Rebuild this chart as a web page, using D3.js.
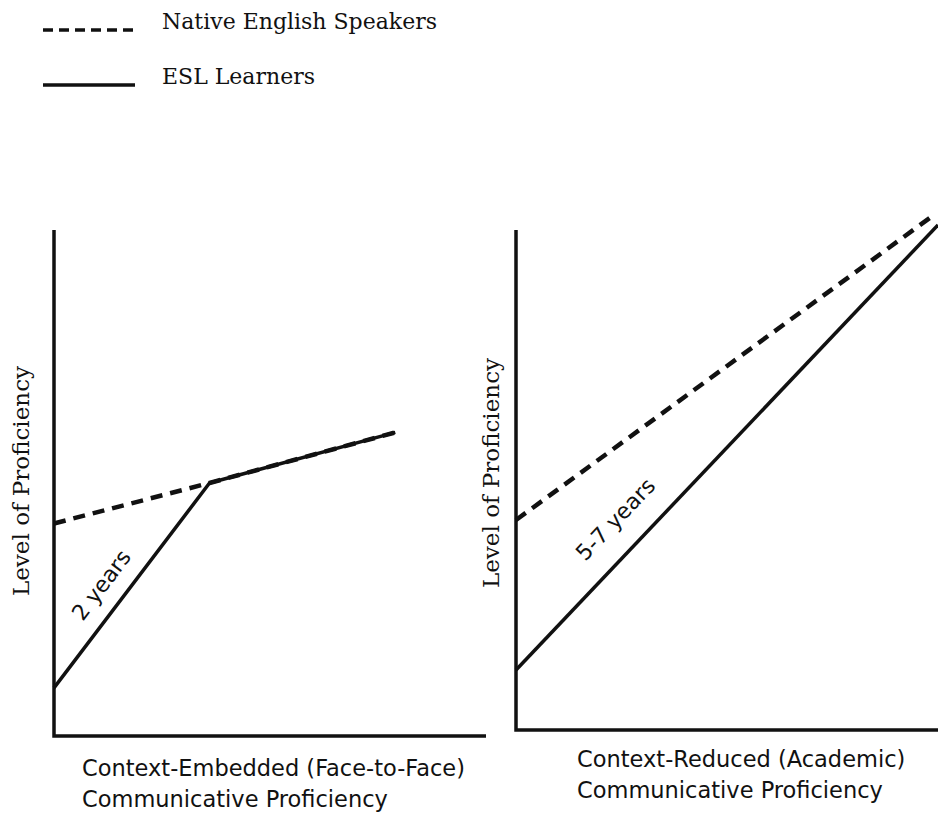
<!DOCTYPE html>
<html>
<head>
<meta charset="utf-8">
<script src="https://cdn.jsdelivr.net/npm/d3@7"></script>
<style>
  body { margin: 0; background: #fff; }
  svg text { fill: #111; }
  .serif { font-family: "DejaVu Serif", "Liberation Serif", serif; }
  .sans { font-family: "DejaVu Sans", "Open Sans", sans-serif; }
</style>
</head>
<body>
<div id="chart"></div>
<script>
  // panel names and years-to-catch-up labels
  const panels = ["embedded", "reduced"];
  const gapLabels = ["2 years", "5-7 years"];
  const xTitles = [
    ["Context-Embedded (Face-to-Face)", "Communicative Proficiency"],
    ["Context-Reduced (Academic)", "Communicative Proficiency"]
  ];
  const yTitle = "Level of Proficiency";
  const seriesNames = ["Native English Speakers", "ESL Learners"];

  // values on a 0-10 schematic scale (x = time, y = level)
  const nativeEmbedded = [[0, 4.2], [3.6, 5.0], [7.9, 6.0]];
  const eslEmbedded = [[0, 0.95], [3.6, 5.0], [7.9, 6.0]];
  const nativeReduced = [[0, 4.2], [9.9, 10.3]];
  const eslReduced = [[0, 1.2], [10, 10.1]];

  const width = 938;
  const height = 818;
  const svg = d3.select("#chart").append("svg")
    .attr("width", width).attr("height", height);

  const ink = "#111";
  const dash = "12,8";

  // legend
  const legend = svg.append("g");
  seriesNames.forEach((name, i) => {
    const y = 30 + i * 55;
    legend.append("line")
      .attr("x1", 43).attr("x2", 135).attr("y1", y).attr("y2", y)
      .attr("stroke", ink).attr("stroke-width", 3.5)
      .attr("stroke-dasharray", i === 0 ? "10,6" : null);
    legend.append("text")
      .attr("class", "serif")
      .attr("x", 162).attr("y", y - 1)
      .style("font-size", "22px")
      .text(name);
  });

  const layout = [
    { left: 54, right: 486, top: 230, bottom: 736, labelX: 22, labelY: 481,
      titleX: 82, titleY: 776, gapT: 0.43, gapOff: 17 },
    { left: 516, right: 938, top: 230, bottom: 730, labelX: 492, labelY: 473,
      titleX: 577, titleY: 767, gapT: 0.29, gapOff: 24 }
  ];
  const data = [
    { native: nativeEmbedded, esl: eslEmbedded },
    { native: nativeReduced, esl: eslReduced }
  ];

  panels.forEach((p, i) => {
    const L = layout[i];
    const x = d3.scaleLinear().domain([0, 10]).range([L.left, L.right]);
    const y = d3.scaleLinear().domain([0, 10]).range([L.bottom, L.top]);
    const g = svg.append("g").attr("class", p);

    // axes drawn as plain strokes, no ticks
    g.append("path")
      .attr("d", `M${x(0)},${y(10)}V${y(0)}H${x(10)}`)
      .attr("fill", "none").attr("stroke", ink).attr("stroke-width", 3.5);

    const line = d3.line().x(d => x(d[0])).y(d => y(d[1]));

    g.append("path")
      .datum(data[i].esl)
      .attr("d", line)
      .attr("fill", "none").attr("stroke", ink).attr("stroke-width", 3.5)
      .attr("stroke-linejoin", "round");

    g.append("path")
      .datum(data[i].native)
      .attr("d", line)
      .attr("fill", "none").attr("stroke", ink).attr("stroke-width", 4.5)
      .attr("stroke-dasharray", dash);

    // label along the ESL rise
    const a = data[i].esl[0], b = data[i].esl[1];
    const ang = Math.atan2(y(b[1]) - y(a[1]), x(b[0]) - x(a[0])) * 180 / Math.PI;
    const lx = x(a[0] + (b[0] - a[0]) * L.gapT);
    const ly = y(a[1] + (b[1] - a[1]) * L.gapT);
    g.append("text")
      .attr("class", "sans")
      .attr("transform", `translate(${lx},${ly}) rotate(${ang}) translate(0,${-L.gapOff})`)
      .attr("text-anchor", "middle")
      .style("font-size", "22px")
      .text(gapLabels[i]);

    g.append("text")
      .attr("class", "serif")
      .attr("transform", `translate(${L.labelX},${L.labelY}) rotate(-90)`)
      .attr("text-anchor", "middle")
      .attr("dy", "0.32em")
      .style("font-size", "23px")
      .text(yTitle);

    xTitles[i].forEach((s, k) => {
      g.append("text")
        .attr("class", "sans")
        .attr("x", L.titleX)
        .attr("y", L.titleY + k * 31)
        .style("font-size", "22.5px")
        .text(s);
    });
  });
</script>
</body>
</html>
